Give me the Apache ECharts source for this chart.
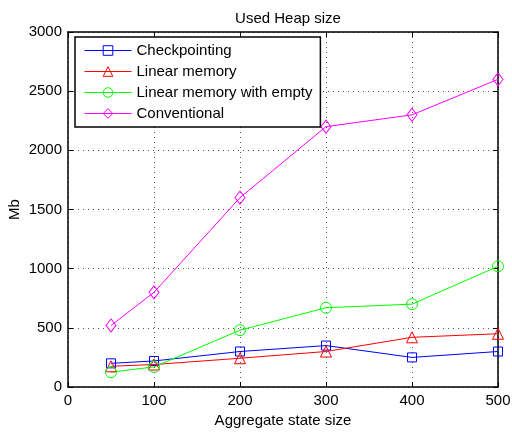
<!DOCTYPE html>
<html>
<head>
<meta charset="utf-8">
<script src="https://cdn.jsdelivr.net/npm/echarts@6/dist/echarts.min.js"></script>
<style>
  html, body { margin: 0; padding: 0; background: #fff; }
  #chart { width: 512px; height: 432px; }
</style>
</head>
<body>
<div id="chart"></div>
<script>
const stateSizes = [50, 100, 200, 300, 400, 500];
const checkpointing = [200, 220, 300, 350, 250, 300];
const linearMemory = [175, 190, 243, 300, 420, 450];
const linearMemoryEmpty = [125, 170, 480, 670, 700, 1020];
const conventional = [520, 800, 1600, 2200, 2300, 2600];

const seriesDefs = [
  { name: "Checkpointing", values: checkpointing, color: "#0000ff", symbol: "rect", size: 9 },
  { name: "Linear memory", values: linearMemory, color: "#ff0000", symbol: "triangle", size: 11 },
  { name: "Linear memory with empty", values: linearMemoryEmpty, color: "#00ff00", symbol: "circle", size: 11 },
  { name: "Conventional", values: conventional, color: "#ff00ff", symbol: "diamond", size: 12 },
];

const font = "Liberation Sans, Arial, sans-serif";
const black = "#000";
const fs = 15;

const chart = echarts.init(document.getElementById("chart"), null, { renderer: "canvas" });

const tickStyle = { show: true, inside: true, length: 5, lineStyle: { color: black, width: 1 } };
const gridLine = { show: true, lineStyle: { color: "#555", type: [1, 4], width: 1 } };
const plain = (v) => String(v);

chart.setOption({
  animation: false,
  backgroundColor: "#fff",
  title: {
    text: "Used Heap size",
    left: 283,
    textAlign: "center",
    top: 6,
    textStyle: { fontFamily: font, fontSize: fs, fontWeight: "normal", color: black },
  },
  grid: { left: 68, right: 14, top: 32, bottom: 45, show: false, containLabel: false, outerBoundsMode: "none" },
  legend: {
    orient: "vertical",
    left: 75,
    top: 37,
    padding: [6, 8, 6, 9],
    itemWidth: 47,
    itemHeight: 12,
    itemGap: 6,
    backgroundColor: "#fff",
    borderColor: black,
    borderWidth: 1.5,
    borderRadius: 0,
    lineStyle: { width: 1 },
    itemStyle: { borderWidth: 1 },
    textStyle: { fontFamily: font, fontSize: fs, color: black },
    data: seriesDefs.map((s) => s.name),
  },
  xAxis: [
    {
      type: "value",
      min: 0,
      max: 500,
      interval: 100,
      name: "Aggregate state size",
      nameLocation: "middle",
      nameGap: 26,
      nameMoveOverlap: false,
      nameTextStyle: { fontFamily: font, fontSize: fs, color: black },
      axisLine: { show: true, onZero: false, lineStyle: { color: black, width: 1.5 } },
      axisTick: tickStyle,
      axisLabel: { fontFamily: font, fontSize: fs, color: black, margin: 6, formatter: plain },
      splitLine: gridLine,
    },
    {
      type: "value",
      position: "top",
      min: 0,
      max: 500,
      interval: 100,
      axisLine: { show: true, onZero: false, lineStyle: { color: black, width: 1.5 } },
      axisTick: tickStyle,
      axisLabel: { show: false },
      splitLine: { show: false },
    },
  ],
  yAxis: [
    {
      type: "value",
      min: 0,
      max: 3000,
      interval: 500,
      name: "Mb",
      nameLocation: "middle",
      nameGap: 46,
      nameMoveOverlap: false,
      nameTextStyle: { fontFamily: font, fontSize: fs, color: black },
      axisLine: { show: true, onZero: false, lineStyle: { color: black, width: 1.5 } },
      axisTick: tickStyle,
      axisLabel: { fontFamily: font, fontSize: fs, color: black, margin: 6, formatter: plain },
      splitLine: gridLine,
    },
    {
      type: "value",
      position: "right",
      min: 0,
      max: 3000,
      interval: 500,
      axisLine: { show: true, onZero: false, lineStyle: { color: black, width: 1.5 } },
      axisTick: tickStyle,
      axisLabel: { show: false },
      splitLine: { show: false },
    },
  ],
  series: seriesDefs.map((s) => ({
    name: s.name,
    type: "line",
    xAxisIndex: 0,
    yAxisIndex: 0,
    data: stateSizes.map((x, i) => [x, s.values[i]]),
    symbol: s.symbol,
    symbolSize: s.symbol === "diamond" ? [10, 13] : s.size,
    showAllSymbol: true,
    lineStyle: { color: s.color, width: 1 },
    itemStyle: { color: "rgba(255,255,255,0)", borderColor: s.color, borderWidth: 1 },
    emphasis: { disabled: true },
  })),
});
</script>
</body>
</html>
